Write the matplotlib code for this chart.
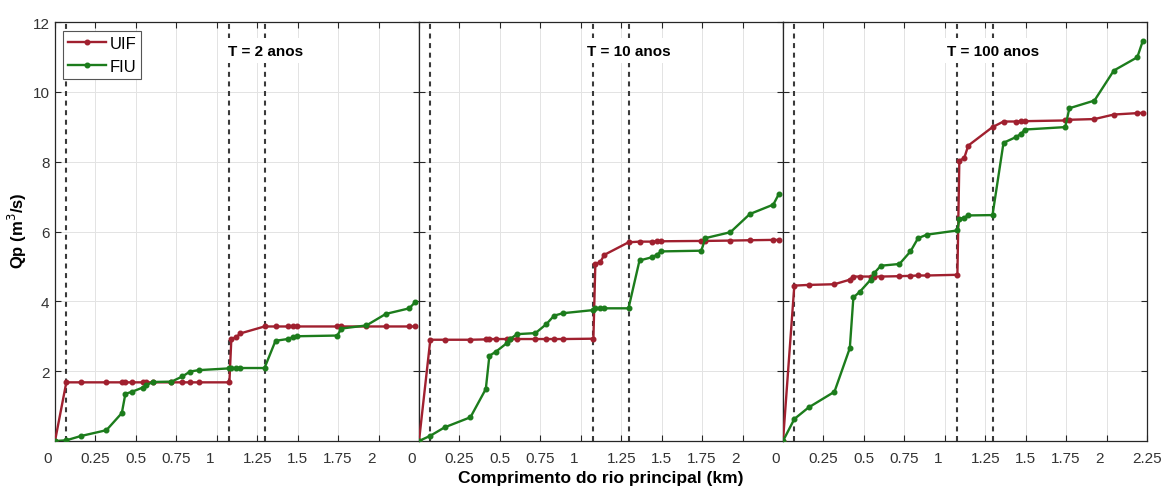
import matplotlib
matplotlib.use('Agg')
import matplotlib.pyplot as plt
import matplotlib.transforms as mtransforms

plt.rcParams['font.family'] = ['Liberation Sans', 'DejaVu Sans']

# distance along the main river (km), shared by every series
dist = [0, 0.07, 0.158, 0.318, 0.413, 0.435, 0.476, 0.542, 0.564, 0.605,
        0.72, 0.788, 0.835, 0.89, 1.078, 1.09, 1.12, 1.145, 1.295, 1.363,
        1.438, 1.47, 1.495, 1.745, 1.77, 1.925, 2.045, 2.19, 2.225]

# peak flow Qp (m3/s), T = 2 years
uif_t2 = [0, 1.68, 1.68, 1.68, 1.68, 1.68, 1.68, 1.68, 1.68, 1.68,
          1.68, 1.68, 1.68, 1.68, 1.68, 2.92, 2.97, 3.08, 3.28, 3.28,
          3.28, 3.28, 3.28, 3.28, 3.28, 3.28, 3.28, 3.28, 3.28]
fiu_t2 = [0, 0.02, 0.14, 0.31, 0.80, 1.35, 1.41, 1.53, 1.60, 1.69,
          1.70, 1.85, 1.99, 2.03, 2.08, 2.09, 2.09, 2.09, 2.09, 2.87,
          2.92, 2.97, 3.00, 3.02, 3.22, 3.31, 3.64, 3.80, 3.97]

# T = 10 years
uif_t10 = [0, 2.90, 2.90, 2.90, 2.91, 2.92, 2.92, 2.92, 2.92, 2.92,
           2.92, 2.92, 2.92, 2.92, 2.93, 5.07, 5.12, 5.33, 5.69, 5.71,
           5.71, 5.72, 5.72, 5.73, 5.73, 5.74, 5.75, 5.76, 5.76]
fiu_t10 = [0, 0.15, 0.39, 0.68, 1.49, 2.44, 2.56, 2.80, 2.92, 3.06,
           3.09, 3.35, 3.59, 3.66, 3.75, 3.80, 3.80, 3.80, 3.80, 5.17,
           5.26, 5.33, 5.43, 5.45, 5.81, 5.98, 6.50, 6.77, 7.08]

# T = 100 years
uif_t100 = [0, 4.45, 4.47, 4.49, 4.62, 4.71, 4.71, 4.71, 4.71, 4.71,
            4.72, 4.73, 4.74, 4.74, 4.76, 8.03, 8.10, 8.46, 8.99, 9.15,
            9.15, 9.16, 9.16, 9.18, 9.20, 9.22, 9.35, 9.39, 9.40]
fiu_t100 = [0, 0.63, 0.96, 1.41, 2.66, 4.11, 4.28, 4.62, 4.81, 5.02,
            5.07, 5.43, 5.81, 5.91, 6.03, 6.36, 6.40, 6.46, 6.47, 8.54,
            8.70, 8.79, 8.92, 8.99, 9.53, 9.75, 10.61, 10.99, 11.47]

titles = ['T = 2 anos', 'T = 10 anos', 'T = 100 anos']
uif_all = [uif_t2, uif_t10, uif_t100]
fiu_all = [fiu_t2, fiu_t10, fiu_t100]
markers_km = [0.07, 1.078, 1.295]   # dashed reference positions
xtick_vals = [0, 0.25, 0.5, 0.75, 1, 1.25, 1.5, 1.75, 2, 2.25]
xtick_txt = ['0', '0.25', '0.5', '0.75', '1', '1.25', '1.5', '1.75', '2', '2.25']

red = '#a0202f'
green = '#1c7c1c'
axcol = '#262626'

fig = plt.figure(figsize=(11.65, 4.89), dpi=100)
W, H = 1165, 489
left, right, bottom, top = 55, 1147, 442, 23
pw = (right - left) / 3

shift = mtransforms.ScaledTranslation(-7 / 100, 0, fig.dpi_scale_trans)

for i in range(3):
    ax = fig.add_axes([(left + i * pw) / W, 1 - bottom / H, pw / W, (bottom - top) / H])
    ax.plot(dist, uif_all[i], '-o', color=red, lw=1.7, ms=3.3, label='UIF', zorder=4)
    ax.plot(dist, fiu_all[i], '-o', color=green, lw=1.7, ms=3.3, label='FIU', zorder=4)
    for xv in markers_km:
        ax.axvline(xv, color='#3a3a3a', lw=1.5, ls=(0, (2.4, 2.2)), zorder=2)

    ax.set_xlim(0, 2.25)
    ax.set_ylim(0, 12)
    n = 10 if i == 2 else 9
    ax.set_xticks(xtick_vals[:n])
    ax.set_xticklabels(xtick_txt[:n])
    ax.set_yticks([2, 4, 6, 8, 10, 12])
    if i > 0:
        ax.set_yticklabels([])
    ax.grid(True, color='#e3e3e3', lw=0.7, zorder=0)
    ax.set_axisbelow(True)
    ax.tick_params(direction='in', top=True, right=True, length=4, width=0.8,
                   color=axcol, labelsize=11, labelcolor='#333333')
    ax.tick_params(axis='x', pad=7)
    ax.tick_params(axis='y', pad=4)
    for sp in ax.spines.values():
        sp.set_color(axcol)
        sp.set_linewidth(0.9)
    # integer labels sit a bit left of their ticks in the original
    for tick in ax.xaxis.get_major_ticks():
        if tick.label1.get_text() in ('0', '1', '2'):
            tick.label1.set_transform(tick.label1.get_transform() + shift)

    ax.text(1.30, 11.17, titles[i], ha='center', va='center', fontsize=11,
            fontweight='bold', color='black', zorder=5,
            bbox=dict(facecolor='white', edgecolor='none', pad=4))

    if i == 0:
        leg = ax.legend(loc='upper left', bbox_to_anchor=(0.021, 0.978), borderaxespad=0,
                        fontsize=12, handlelength=2.3, handletextpad=0.2,
                        labelspacing=0.45, borderpad=0.3, fancybox=False,
                        framealpha=1, edgecolor='#555555')
        leg.get_frame().set_linewidth(0.8)
        leg.set_zorder(6)

fig.text(17 / W, 1 - 231 / H, 'Qp (m$^3$/s)', rotation=90, ha='center', va='center',
         fontsize=12, fontweight='bold')
fig.text((left + right) / 2 / W, 1 - 479 / H, 'Comprimento do rio principal (km)',
         ha='center', va='center', fontsize=12.5, fontweight='bold')

fig.savefig('out.png', dpi=100)
